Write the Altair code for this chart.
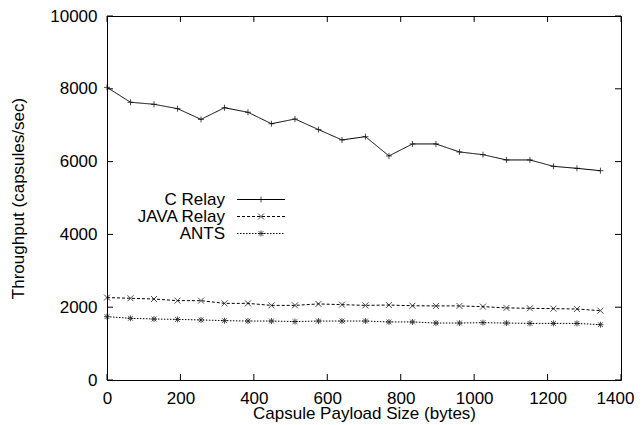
import altair as alt
import pandas as pd

# ---- data ----
payload = [0, 64, 128, 192, 256, 320, 384, 448, 512, 576, 640, 704,
           768, 832, 896, 960, 1024, 1088, 1152, 1216, 1280, 1344]
c_relay = [8040, 7630, 7575, 7455, 7160, 7480, 7355, 7040, 7170, 6880, 6595, 6685,
           6155, 6485, 6485, 6265, 6190, 6045, 6045, 5870, 5815, 5750]
java_relay = [2265, 2245, 2225, 2180, 2180, 2105, 2105, 2050, 2050, 2090, 2070, 2050,
              2060, 2040, 2035, 2035, 2015, 1980, 1970, 1960, 1950, 1905]
ants = [1740, 1695, 1675, 1665, 1650, 1630, 1620, 1620, 1605, 1620, 1620, 1620,
        1595, 1595, 1565, 1565, 1575, 1565, 1555, 1555, 1555, 1520]

series_names = ["C Relay", "JAVA Relay", "ANTS"]
marker_codes = ["plus", "cross", "star"]
x_ticks = [0, 200, 400, 600, 800, 1000, 1200, 1400]
y_ticks = [0, 2000, 4000, 6000, 8000, 10000]

# ---- styles ----
dashes = [[1, 0], [3, 2], [1.5, 1.5]]
marker_paths = [
    "M-1,0L1,0M0,-1L0,1",
    "M-1,-1L1,1M-1,1L1,-1",
    "M-1,0L1,0M0,-1L0,1M-0.8,-0.8L0.8,0.8M-0.8,0.8L0.8,-0.8",
]
FONT = "Liberation Sans"
FS = 17
W, H = 514, 364

rows = []
for name, code, vals in zip(series_names, marker_codes, [c_relay, java_relay, ants]):
    for x, y in zip(payload, vals):
        rows.append({"size": x, "thr": y, "series": name, "marker": code})
df = pd.DataFrame(rows)
xt = pd.DataFrame({"v": x_ticks})
yt = pd.DataFrame({"v": y_ticks})

xscale = alt.Scale(domain=[0, 1400], nice=False, zero=False)
yscale = alt.Scale(domain=[0, 10000], nice=False, zero=False)

xaxis = alt.Axis(title="Capsule Payload Size (bytes)", values=x_ticks, grid=False,
                 format="d",
                 ticks=False, domain=False, labelFontSize=FS, labelFont=FONT,
                 labelColor="black", labelBaseline="alphabetic", labelPadding=23,
                 labelFlush=False, labelOverlap=False,
                 labelOffset={"condition": {"test": "datum.value >= 1400", "value": -6},
                              "value": 0},
                 titleFontSize=FS, titleFont=FONT, titleFontWeight="normal",
                 titleColor="black", titleX=W / 2, titleY=38,
                 titleBaseline="alphabetic", titleAlign="center")
yaxis = alt.Axis(title="Throughput (capsules/sec)", values=y_ticks, grid=False,
                 format="d",
                 ticks=False, domain=False, labelFontSize=FS, labelFont=FONT,
                 labelColor="black", labelPadding=10, labelOverlap=False,
                 titleFontSize=FS, titleFont=FONT, titleFontWeight="normal",
                 titleColor="black", titleX=-89, titleY=H / 2,
                 titleBaseline="middle", titleAlign="center", titleAngle=270)

LX, LY = 145.5, 175
common_leg = dict(orient="none", legendX=LX, legendY=LY, title=None,
                  symbolSize=36, symbolStrokeWidth=1, symbolStrokeColor="black",
                  symbolFillColor="transparent", labelAlign="right",
                  labelOffset={"expr": "-44.5"}, labelFont=FONT, labelFontSize=FS,
                  labelColor="black", rowPadding={"expr": "-2"}, padding=0,
                  labelLimit=0)

lines = alt.Chart(df).mark_line(color="black", strokeWidth=1).encode(
    x=alt.X("size:Q", scale=xscale, axis=xaxis),
    y=alt.Y("thr:Q", scale=yscale, axis=yaxis),
    strokeDash=alt.StrokeDash("series:N",
                              scale=alt.Scale(domain=series_names, range=dashes),
                              legend=alt.Legend(symbolType="M-8,0L8,0", **common_leg)),
    detail="series:N",
)

points = alt.Chart(df).mark_point(color="black", filled=False, strokeWidth=1, size=36).encode(
    x=alt.X("size:Q", scale=xscale, axis=xaxis),
    y=alt.Y("thr:Q", scale=yscale, axis=yaxis),
    shape=alt.Shape("marker:N",
                    scale=alt.Scale(domain=marker_codes, range=marker_paths),
                    legend=alt.Legend(labelExpr="''", **common_leg)),
)

tick_len = 6
bx = alt.Chart(xt).mark_rule(color="black", strokeWidth=1).encode(
    x=alt.X("v:Q", scale=xscale, axis=xaxis), y=alt.value(H), y2=alt.value(H - tick_len))
tx = alt.Chart(xt).mark_rule(color="black", strokeWidth=1).encode(
    x=alt.X("v:Q", scale=xscale, axis=xaxis), y=alt.value(0), y2=alt.value(tick_len))
ly = alt.Chart(yt).mark_rule(color="black", strokeWidth=1).encode(
    y=alt.Y("v:Q", scale=yscale, axis=yaxis), x=alt.value(0), x2=alt.value(tick_len))
ry = alt.Chart(yt).mark_rule(color="black", strokeWidth=1).encode(
    y=alt.Y("v:Q", scale=yscale, axis=yaxis), x=alt.value(W), x2=alt.value(W - tick_len))

chart = alt.layer(bx, tx, ly, ry, lines, points).properties(
    width=W, height=H,
    autosize=alt.AutoSizeParams(type="none"),
    padding={"left": 99, "top": 8, "right": 13, "bottom": 45},
).configure(font=FONT).configure_view(stroke="black", strokeWidth=1)

chart.save("out.html", embed_options={"renderer": "svg", "actions": False})
